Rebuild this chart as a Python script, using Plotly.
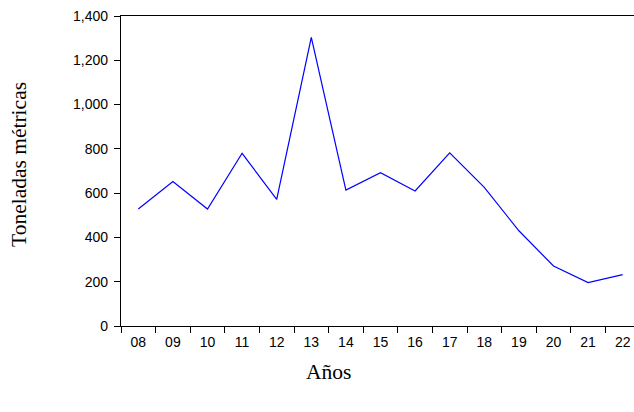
import plotly.graph_objects as go

years = ["08", "09", "10", "11", "12", "13", "14", "15", "16", "17", "18", "19", "20", "21", "22"]
toneladas = [528, 653, 528, 780, 572, 1304, 614, 692, 610, 782, 626, 430, 271, 196, 232]
y_ticks = [0, 200, 400, 600, 800, 1000, 1200, 1400]

W, H = 634, 412
plot_left, plot_top, plot_right, plot_bottom = 121, 16, 640, 326
# plot area continues past the right edge of the picture, as in the reference
cats_visible = (W - plot_left) / (plot_right - plot_left) * len(years)
L, T, R, B = plot_left, plot_top, 0, H - plot_bottom
pw = W - plot_left
ph = plot_bottom - plot_top

fig = go.Figure()
fig.add_trace(go.Scatter(x=years, y=toneladas, mode="lines",
                         line=dict(color="#0000FF", width=1.2)))

fig.update_layout(
    width=W, height=H,
    margin=dict(l=L, r=R, t=T, b=B, pad=0),
    paper_bgcolor="white", plot_bgcolor="white",
    showlegend=False,
    font=dict(family="Liberation Sans, Arial", size=14, color="black"),
)
fig.update_xaxes(
    type="category", range=[-0.5, -0.5 + cats_visible],
    tickson="boundaries", ticks="outside", ticklen=6, tickwidth=1, tickcolor="black",
    showline=True, linecolor="black", linewidth=1.2, mirror=True,
    showgrid=False, zeroline=False, ticklabelstandoff=3,
    tickfont=dict(size=14), automargin=False,
)
fig.update_yaxes(
    range=[0, 1400], tickvals=y_ticks, tickformat=",",
    ticks="outside", ticklen=6, tickwidth=1, tickcolor="black",
    showline=True, linecolor="black", linewidth=1.2,
    showgrid=False, zeroline=False, ticklabelstandoff=3,
    tickfont=dict(size=14), automargin=False,
)
fig.add_annotation(text="Años", xref="paper", yref="paper",
                   x=(328 - plot_left) / pw, y=(plot_bottom - 372) / ph,
                   showarrow=False, xanchor="center", yanchor="middle",
                   font=dict(family="Liberation Serif, Times New Roman", size=21.5))
fig.add_annotation(text="Toneladas métricas", xref="paper", yref="paper",
                   x=(19 - plot_left) / pw, y=(plot_bottom - 165) / ph, textangle=-90,
                   showarrow=False, xanchor="center", yanchor="middle",
                   font=dict(family="Liberation Serif, Times New Roman", size=21.5))

fig.write_html("out.html", config={"displayModeBar": False},
               post_script="document.body.style.margin='0';")
